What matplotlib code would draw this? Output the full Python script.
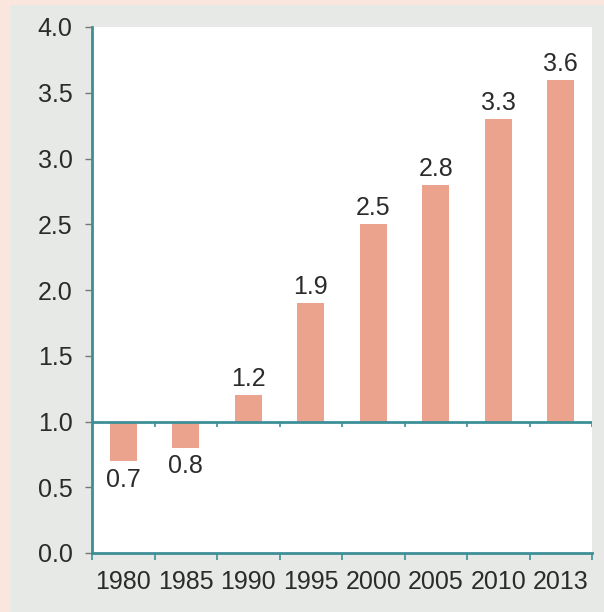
import numpy as np
import matplotlib.pyplot as plt
from matplotlib.patches import Rectangle

# data
years = ["1980", "1985", "1990", "1995", "2000", "2005", "2010", "2013"]
values = [0.7, 0.8, 1.2, 1.9, 2.5, 2.8, 3.3, 3.6]
yticks = [0.0, 0.5, 1.0, 1.5, 2.0, 2.5, 3.0, 3.5, 4.0]

plt.rcParams['font.family'] = ['Liberation Sans', 'DejaVu Sans']

teal = "#3d8f97"
bar_color = "#eca38d"
text_color = "#2b2b2b"
fs = 18

fig = plt.figure(figsize=(6.04, 6.12), dpi=100)
fig.patch.set_facecolor("#fbe6dd")
# grey panel behind the chart
fig.patches.append(Rectangle((10 / 604, 0), 1, 1 - 5 / 612, transform=fig.transFigure,
                             facecolor="#e7e9e6", edgecolor="none", zorder=-10))

ax = fig.add_axes([92 / 604, 59 / 612, 500 / 604, 526 / 612])
ax.set_zorder(5)
ax.set_facecolor("white")

x = np.arange(len(years))
base = 1.0
heights = [v - base for v in values]
ax.bar(x, heights, bottom=base, width=0.43, color=bar_color, zorder=2)

for xi, v in zip(x, values):
    if v >= base:
        ax.text(xi, v + 0.03, f"{v:.1f}", ha="center", va="bottom", fontsize=fs, color=text_color)
    else:
        ax.text(xi, v - 0.05, f"{v:.1f}", ha="center", va="top", fontsize=fs, color=text_color)

ax.set_xlim(-0.5, len(years) - 0.5)
ax.set_ylim(0, 4.0)

# baseline at 1.0 with little ticks under it
bounds = np.arange(len(years) + 1) - 0.5
ax.axhline(base, color=teal, lw=2, zorder=3)
ax.vlines(bounds, base - 0.04, base, color=teal, lw=1.2, zorder=3)

ax.set_yticks(yticks)
ax.set_yticklabels([f"{t:.1f}" for t in yticks], fontsize=fs, color=text_color)
ax.tick_params(axis="y", length=5, width=1, color="#777777", pad=9)

ax.set_xticks(bounds, minor=True)
ax.set_xticks(x)
ax.set_xticklabels(years, fontsize=fs, color=text_color)
ax.tick_params(axis="x", which="major", length=0, pad=12)
ax.tick_params(axis="x", which="minor", length=5, width=1.2, color=teal)

for s in ["top", "right"]:
    ax.spines[s].set_visible(False)
for s in ["left", "bottom"]:
    ax.spines[s].set_color(teal)
    ax.spines[s].set_linewidth(2)

fig.savefig("out.png", dpi=100, facecolor=fig.get_facecolor())
